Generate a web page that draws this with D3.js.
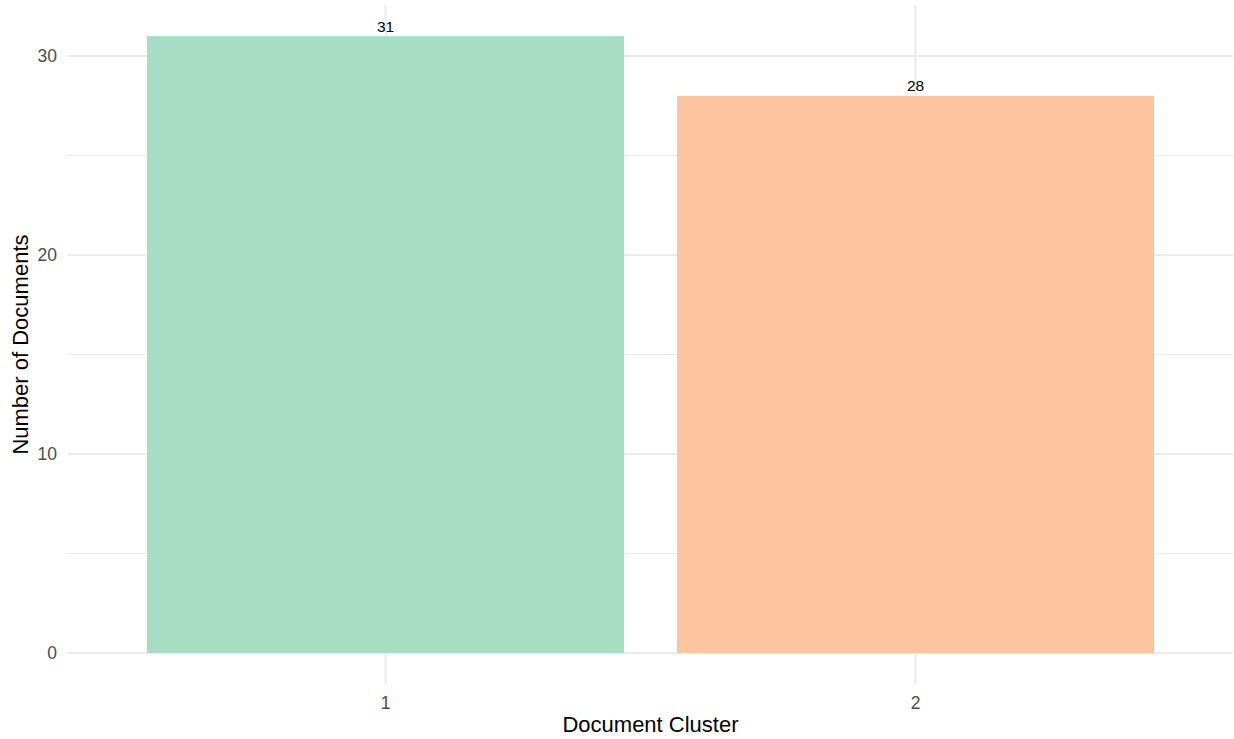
<!DOCTYPE html>
<html><head><meta charset="utf-8">
<script src="https://cdn.jsdelivr.net/npm/d3@7"></script>
<style>body{margin:0;background:#fff;} text{font-family:"Liberation Sans",Arial,sans-serif;}</style>
</head><body><svg id="c" width="1234" height="739"></svg>
<script>
const categories = ["1", "2"];
const counts = [31, 28];
const barColors = ["#A6DDC3", "#FCC49F"];
const yTicks = [0, 10, 20, 30];
const yMinor = [5, 15, 25];

(function () {
const svg = d3.select("#c");
const pL = 67.5, pR = 1233.5, pT = 5.3, pB = 683.8;

const x = d3.scaleBand().domain(categories).range([pL, pR]).paddingInner(0.1).paddingOuter(0.15);
const cx = d => x(d) + x.bandwidth() / 2;
const bw = x.bandwidth();

const y = d3.scaleLinear().domain([-1.55, 32.55]).range([pB, pT]);

const g = svg.append("g");
g.selectAll(".minor").data(yMinor).enter().append("line")
  .attr("x1", pL).attr("x2", pR).attr("y1", d => y(d)).attr("y2", d => y(d))
  .attr("stroke", "#EBEBEB").attr("stroke-width", 1);
g.selectAll(".major").data(yTicks).enter().append("line")
  .attr("x1", pL).attr("x2", pR).attr("y1", d => y(d)).attr("y2", d => y(d))
  .attr("stroke", "#EBEBEB").attr("stroke-width", 2);
g.selectAll(".vmajor").data(categories).enter().append("line")
  .attr("x1", d => cx(d)).attr("x2", d => cx(d)).attr("y1", pT).attr("y2", pB)
  .attr("stroke", "#EBEBEB").attr("stroke-width", 2);

g.selectAll(".bar").data(categories).enter().append("rect")
  .attr("x", d => x(d)).attr("width", bw)
  .attr("y", (d, i) => y(counts[i])).attr("height", (d, i) => y(0) - y(counts[i]))
  .attr("fill", (d, i) => barColors[i]);

g.selectAll(".lab").data(categories).enter().append("text")
  .attr("x", d => cx(d)).attr("y", (d, i) => y(counts[i]) - 4.5)
  .attr("text-anchor", "middle").attr("font-size", 15.5).attr("fill", "#000")
  .text((d, i) => counts[i]);

g.selectAll(".yt").data(yTicks).enter().append("text")
  .attr("x", 57).attr("y", d => y(d)).attr("dy", "0.36em")
  .attr("text-anchor", "end").attr("font-size", 17.5).attr("fill", "#4D4D4D")
  .text(d => d);

g.selectAll(".xt").data(categories).enter().append("text")
  .attr("x", d => cx(d)).attr("y", 709)
  .attr("text-anchor", "middle").attr("font-size", 17.5).attr("fill", "#4D4D4D")
  .text(d => d);

svg.append("text").attr("x", (pL + pR) / 2).attr("y", 732)
  .attr("text-anchor", "middle").attr("font-size", 22).attr("fill", "#000")
  .text("Document Cluster");
svg.append("text").attr("transform", `translate(28,${(pT + pB) / 2}) rotate(-90)`)
  .attr("text-anchor", "middle").attr("font-size", 22).attr("fill", "#000")
  .text("Number of Documents");
})();
</script></body></html>
